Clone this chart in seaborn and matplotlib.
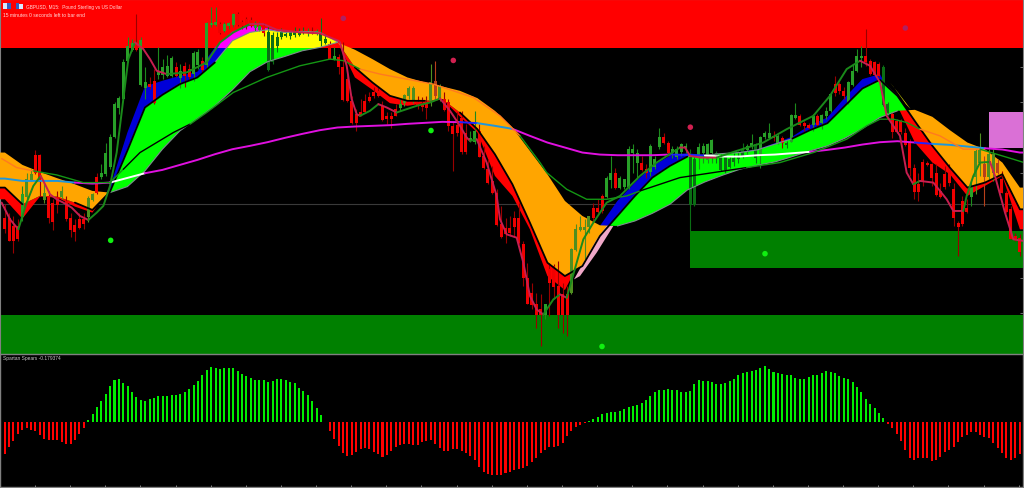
#GBPUSD M15 chart with Spartan Spears panel

import numpy as np
import pandas as pd
import seaborn as sns
import matplotlib.pyplot as plt
from matplotlib.patches import Rectangle

# candles, rows on the price pane (0 = top)
candle_open = [655,655,680,680,650,590,540,468,468,600, 590,612,592,592,606,656,676,660,660,650,
    600,532,532,522,500,410,325,297,185,150, 135,255,265,255,245,225,225,230,228,205,
    235,200,210,222,195,185,195,75,75,75, 95,80,75,45,68,60,62,85,90,80,
    100,108,140,100,105,110,100,105,97,100, 95,100,100,120,135,178,175,
    205,240,305,345,338,305,295,280,275,320, 350,350,330,325,310,288,305,310,315,310,
    305,245,300,300,310,380,378,355,400,420, 425,395,470,510,545,580,675,685,685,655,
    655,735,835,880,915,930,945,810,800,860, 885,885,880,750,690,690,680,625,625,590,
    590,540,520,565,560,560,460,490,490,510, 515,500,440,412,430,460,470,
    455,445,470,480,470,460,480,460,460,475, 470,480,475,470,470,450,440,435,465,410,
    415,410,430,415,430,425,355,352,370,378, 375,352,370,350,335,255,255,275,310,255,
    215,175,170,185,190,195,205,315,345,365, 365,400,430,505,555,488,490,495,520,575,
    525,505,570,670,605,625,590,530,490,495, 530,520,490,540,580,630,710,715]
candle_high = [615,640,650,660,560,520,510,452,465,550, 575,600,575,560,590,640,660,640,640,590,
    580,520,495,430,405,310,290,180,115,120, 45,115,205,235,210,145,180,168,172,190,
    195,190,195,155,150,175,70,25,25,70, 70,68,42,38,62,55,55,65,70,72,
    80,98,100,88,92,95,85,88,85,88, 85,90,58,105,125,145,165,
    130,225,290,330,300,285,280,265,260,305, 340,340,315,300,285,262,262,290,295,290,
    195,185,255,280,300,365,340,335,375,395, 335,375,440,480,500,570,620,655,650,635,
    610,725,790,850,880,885,915,790,795,785, 850,860,745,675,650,660,650,610,600,585,
    530,470,505,530,540,440,435,450,470,495, 435,470,385,400,425,440,440,
    430,430,450,465,430,430,430,420,455,465, 470,470,460,455,430,435,405,430,410,395,
    372,395,405,410,425,345,312,345,365,370, 345,345,345,325,280,230,248,265,245,195,
    150,140,90,180,185,190,198,310,340,360, 360,385,420,495,520,480,485,490,495,550,
    500,495,550,665,590,600,545,450,400,470, 450,450,480,515,575,620,700,705]
candle_low = [700,725,762,725,665,600,545,525,590,610, 672,692,640,600,665,712,725,690,690,668,
    605,585,540,530,510,415,345,300,190,155, 155,262,300,270,315,240,240,235,235,235,
    268,265,240,245,210,220,210,85,80,105, 100,90,85,80,90,90,85,95,95,110,
    215,195,160,120,115,120,115,110,105,110, 105,108,140,135,180,182,225,
    305,310,375,395,350,340,310,298,295,365, 375,385,352,335,320,300,312,330,335,360,
    320,300,305,335,395,515,410,465,465,428, 435,472,510,555,585,680,715,730,710,710,
    735,860,915,930,985,1040,960,950,900,985, 1000,1010,885,755,695,780,700,665,640,640,
    595,565,570,570,570,570,520,540,515,535, 530,510,450,435,470,475,480,
    470,460,695,620,510,490,490,490,490,515, 520,505,500,490,475,465,450,490,505,420,
    420,425,435,445,445,428,360,380,395,390, 395,380,390,360,340,290,285,300,315,260,
    220,205,200,228,230,235,320,350,415,400, 405,440,530,600,605,560,500,560,590,595,
    570,560,680,770,680,640,620,585,530,620, 540,545,525,580,640,720,725,770]
candle_close = [688,722,722,718,585,540,525,520,545,580, 655,665,615,575,658,690,695,685,672,597,
    585,578,522,462,412,315,297,190,142,132, 150,122,250,262,310,215,205,200,178,228,
    215,228,232,162,160,210,72,72,70,100, 75,72,45,75,80,78,80,75,80,100,
    210,188,115,112,110,100,105,98,100,95, 100,95,125,130,178,170,203,
    300,305,370,370,345,338,305,290,290,360, 358,358,350,316,288,268,268,320,322,325,
    250,290,262,330,378,402,400,455,455,415, 395,470,503,550,580,675,712,702,700,682,
    730,835,912,915,945,945,915,850,860,945, 945,945,750,690,683,682,650,655,635,632,
    535,520,565,537,540,450,450,460,510,520, 440,480,412,430,460,450,450,
    435,440,615,615,442,440,435,422,475,510, 510,500,485,478,450,440,432,475,412,402,
    400,415,410,430,435,348,348,375,378,385, 352,375,348,335,285,280,275,290,250,215,
    172,170,188,222,225,230,315,340,395,395, 395,435,505,575,575,545,495,535,585,590,
    560,550,655,680,672,635,560,455,452,530, 465,465,520,578,635,718,720,755]

# Spartan Spears histogram
spears = [-97,-77,-57,-37,-25,-18,-24,-27,-40,-52,-56,-56,-56,-62,-67,-66,-55,-37,-18,
    4,23,44,64,84,107,125,130,117,107, 91,74,65,62,70,73,79,77,79,80, 80,83,90,100,111,123,140,156,166,163,
    158,161,162,161,152,143,137,131,127,126, 125,121,124,128,128,126,119,116,102,93, 80,63,41,20,
    -2,-27,-52,-73,
    -94,-102,-100,-90,-82,-80,-82,-91,-98,-106, -99,-88,-77,-70,-67,-68,-69,-69,-62,-57,
    -55,-67,-79,-87,-87,-82,-81,-88,-95,-103, -116,-136,-153,-157,-160,-160,-160,-156,-152,-147,
    -142,-139,-134,-123,-109,-93,-84,-77,-75,-73, -63,-44,-27,-17,-10,-3,
    1,9,15,22,27,30,29,33,38,43, 47,51,57,66,78,89,96,96,98,96, 95,
    90,90,94,113,125,124,124,120,115,115, 118,124,130,140,147,151,154,155,162,168,
    158,151,146,143,142,140,133,128,128,135, 140,142,148,153,150,147,138,133,130,120,
    106,89,70,54,40,26,10,
    -6,-19,-37,-57,-84,-109,-117,-110,-108,-109, -120,-115,-105,-91,-85,-75,-62,-45,-39,-32,
    -32,-39,-45,-50,-63,-79,-93,-108,-115,-108, -98]

# moving averages read every fourth bar
slow_band = [460,497,518,537,555,575,580,562,515,450,395,358,320,272,218,188,172,155,145,130,
    152,180,210,235,250,262,275,297,335,385,455,525,605,650,678,680,665,642,615,
    572,548,528,510,498,488,472,455,440,417,388,355,335,332,353,393,430,450,490,565]
mid_band = [565,615,590,592,610,632,578,454,325,287,255,235,190,125,100,92,100,97,100,128,
    205,250,290,305,305,300,340,390,465,555,670,790,830,800,710,650,590,535,500,
    472,468,463,460,452,435,418,393,372,320,268,242,290,366,440,505,565,550,525,630]
fast_band = [600,658,592,595,622,640,565,400,262,245,230,218,145,98,80,88,102,97,100,128,
    235,272,312,320,312,300,352,400,530,590,690,830,872,770,680,605,550,500,470,
    462,468,463,458,450,432,412,378,355,295,240,225,320,430,490,525,590,560,530,690]
long_ma = [538,545,545,545,550,553,550,536,522,512,497,482,465,450,440,429,416,404,393,385,
    382,380,378,374,371,368,369,372,380,389,410,430,445,460,466,468,468,468,466,
    467,469,472,472,468,466,462,458,452,445,436,429,426,430,434,437,442,447,451,460]

fast_line_x = [5,30,55,80,100,122,130,150,170,190,215,240,265,290,310,330,350,370,385,405,430,450,470,500,
    560,620,660,700,750,790,830,900,960,1015,
    1020,1040,1055,1070,1080,1110,1135,1160,1190,1250,1290,1320,1350,1380,1400,1410,1430,1460,1490,1500,
    1520,1550,1570,1590,1610,1630,1660,1680,1700,1730,1750,1780,1820,1860,1920,1970,2040,
    2055,2070,2100,2150,2210,2290,2360,2440,2490,2540,2580,2610,2640,2660,2700,2720,2740,2760,2800,2840,
    2860,2890,2900,2920,2940,2970,2985,3015,3040,3072]
fast_line_y = [610,660,690,610,560,530,545,585,600,610,625,650,662,640,620,560,460,300,180,130,150,180,215,225,
    220,190,130,100,75,75,92,100,103,125,
    130,200,300,345,350,335,315,325,340,320,310,298,335,380,415,425,420,490,590,660,
    705,715,790,890,930,945,900,885,895,790,720,670,610,590,530,490,445,
    445,470,475,475,455,430,390,350,290,210,185,200,250,350,410,520,555,545,550,600,635,
    635,590,530,490,488,530,640,720,725,730]

slow_line_x = [5,50,100,170,250,330,370,420,470,520,570,620,700,800,900,990,1032,1080,1140,1220,1300,1420,1500,
    1560,1620,1640,1670,1700,1760,1820,1880,1920,1980,2040,2140,2240,2340,2440,2540,2600,2640,2680,2720,2760,
    2820,2890,2940,2990,3040,3072]
slow_line_y = [478,505,515,527,550,550,510,460,430,400,375,340,280,235,200,180,185,210,225,240,255,295,350,
    410,490,520,545,570,600,600,590,575,555,535,520,505,490,460,420,380,360,360,370,390,
    410,450,450,465,480,490]

pink_x = [1722,1790,1820,1840,1790,1740]
pink_y = [840,720,680,680,760,830]
wedge_x = [2670,2690,2732,2718,2680]
wedge_y = [250,275,330,315,262]

signal_x = [332,1293,1806,2295,1360,2071,1030,2716]
signal_y = [723,394,1041,763,184,384,58,87]
signal_kind = ["buy","buy","buy","buy","sell","sell","faded","faded"]

title_line = "GBPUSD, M15:  Pound Sterling vs US Dollar"
timer_line = "15 minutes 0 seconds left to bar end"
panel_line = "Spartan Spears -0.179374"

W = 3069
bar_x = 14 + 13.18 * np.arange(len(candle_open))
grid_x = np.r_[0, 14.7 + 52.5 * np.arange(len(slow_band)), W]

def pad(v):
    return np.r_[v[0], v, v[-1]]

s1 = pad(slow_band)
s2 = pad(mid_band)
s3 = pad(fast_band)
ma = pad(long_ma)

sns.set_style("dark")
plt.rcParams['font.family'] = ['Liberation Sans', 'DejaVu Sans']

fig = plt.figure(figsize=(10.24, 4.89), dpi=100, facecolor="black")
ax = fig.add_axes([0, 134.5 / 489, 1023 / 1024, 354.5 / 489])
ax2 = fig.add_axes([0, 1 / 489, 1023 / 1024, 133.5 / 489])

# rows of the price pane: 3 per pixel
ax.set_facecolor("black")
ax.set_xlim(0, W)
ax.set_ylim(1062, 0)

# zones
ax.add_patch(Rectangle((0, 3), W, 144, color="#ff0000", lw=0, zorder=1))
ax.add_patch(Rectangle((0, 948), W, 114, color="#008000", lw=0, zorder=1))
ax.add_patch(Rectangle((2070, 696), W - 2070, 110, color="#008000", lw=0, zorder=1))
ax.add_patch(Rectangle((2967, 340), W - 2967, 107, color="#da70d6", lw=0, zorder=1))
ax.axhline(614, color="#3a3a3a", lw=0.8, zorder=1.5)

# bands
ax.fill_between(grid_x, s3, s2, where=s3 > s2, interpolate=True, color="#ff0000", lw=0, zorder=3)
ax.fill_between(grid_x, s3, s2, where=s3 < s2, interpolate=True, color="#0000d8", lw=0, zorder=3)
ax.fill_between(grid_x, s1, s2, where=s1 < s2, interpolate=True, color="#ffa500", lw=0, zorder=3)
ax.fill_between(grid_x, s1, s2, where=s1 > s2, interpolate=True, color="#00ff00", lw=0, zorder=3)

# colours flip inside the red zone
zone = Rectangle((0, 0), W, 147, transform=ax.transData)
top_lime = ax.fill_between(grid_x, s1, s2, where=s1 > s2, interpolate=True, color="#ffff00", lw=0, zorder=3.1)
top_lime.set_clip_path(zone)
top_blue = ax.fill_between(grid_x, s3, s2, where=s3 < s2, interpolate=True, color="#ff00ff", lw=0, zorder=3.1)
top_blue.set_clip_path(zone)

ax.fill(pink_x, pink_y, color="#f0a8c8", lw=0, zorder=3.2)
ax.fill(wedge_x, wedge_y, color="#ffff00", lw=0, zorder=3.2)


def where_at(x, y):
    a = np.interp(x, grid_x, s1)
    b = np.interp(x, grid_x, s2)
    c = np.interp(x, grid_x, s3)
    if b < y < a:
        return "lime"
    if a < y < b:
        return "orange"
    if min(b, c) < y < max(b, c):
        return "blue" if c < b else "red"
    return "none"


def draw_runs(ax, x, y, colors, lw, zorder):
    start = 0
    for i in range(1, len(colors) + 1):
        if i == len(colors) or colors[i] != colors[start]:
            sns.lineplot(x=x[start:i + 1], y=y[start:i + 1], color=colors[start], lw=lw,
                         estimator=None, sort=False, legend=False, ax=ax, zorder=zorder)
            start = i


def draw_where(ax, x, y, keep, color, lw, zorder):
    # seaborn joins across gaps, so every kept stretch gets its own line
    start = None
    for i in range(len(x) + 1):
        if i < len(x) and keep[i]:
            if start is None:
                start = i
        elif start is not None:
            if i - start > 1:
                sns.lineplot(x=x[start:i], y=y[start:i], color=color, lw=lw, estimator=None,
                             sort=False, legend=False, ax=ax, zorder=zorder)
            start = None


# candles
co = np.array(candle_open)
cc = np.array(candle_close)
body_col = []
wick_col = []
for x, o, c in zip(bar_x, co, cc):
    spot = where_at(x, (o + c) / 2)
    if spot == "lime":
        body_col.append("#0a6e14")
        wick_col.append("#0a6e14")
    elif spot == "orange":
        body_col.append("#4f8f20" if c < o else "#b8401a")
        wick_col.append("#4f8f20" if c < o else "#b8401a")
    elif c < o:
        body_col.append("#28a028")
        wick_col.append("#1c8a1c")
    else:
        body_col.append("#f00000")
        wick_col.append("#9a0000")
ax.vlines(bar_x, candle_high, candle_low, colors=wick_col, lw=0.8, zorder=4)
ax.bar(bar_x, np.abs(co - cc) + 2, bottom=np.minimum(co, cc), width=9, color=body_col, lw=0, zorder=4.1)

# band outlines
draw_where(ax, grid_x, s1, s1 >= s2, "#7c8c8c", 0.8, 5)
draw_where(ax, grid_x, s2, s1 >= s2, "#7c8c8c", 0.8, 5)
draw_where(ax, grid_x, s2, (s2 > 147) & (np.abs(s3 - s2) > 4), "black", 1.3, 5.05)

# long MA, colour follows what it crosses
ma_cols = []
for i in range(len(grid_x) - 1):
    spot = where_at((grid_x[i] + grid_x[i + 1]) / 2, (ma[i] + ma[i + 1]) / 2)
    ma_cols.append({"lime": "#ffffff", "orange": "#1e96dc", "blue": "#2020ff", "red": "#2020ff"}.get(spot, "#e010e0"))
draw_runs(ax, grid_x, ma, ma_cols, 1.4, 5.2)

# slow line
sx = np.array(slow_line_x, dtype=float)
sy = np.array(slow_line_y, dtype=float)
slow_cols = []
for i in range(len(sx) - 1):
    spot = where_at((sx[i] + sx[i + 1]) / 2, (sy[i] + sy[i + 1]) / 2)
    slow_cols.append({"lime": "#000000", "orange": "#ff7a20"}.get(spot, "#149614"))
draw_runs(ax, sx, sy, slow_cols, 1.0, 5.3)

# fast line, green going up and crimson going down
fx = np.array(fast_line_x, dtype=float)
fy = np.array(fast_line_y, dtype=float)
fast_cols = ["#1a8a1a" if fy[i + 1] < fy[i] else "#c81e50" for i in range(len(fx) - 1)]
draw_runs(ax, fx, fy, fast_cols, 1.4, 5.4)

# signal dots
dots = pd.DataFrame({"x": signal_x, "y": signal_y, "kind": signal_kind})
sns.scatterplot(data=dots, x="x", y="y", hue="kind", linewidth=0, s=16, legend=False, ax=ax, zorder=6,
                palette={"buy": "#10f010", "sell": "#d02050", "faded": "#b02060"})

# header
ax.add_patch(Rectangle((9, 11), 12, 18, color="#d8e8ff", lw=0, zorder=7))
ax.add_patch(Rectangle((21, 11), 12, 18, color="#3060c0", lw=0, zorder=7))
ax.add_patch(Rectangle((48, 11), 10, 18, color="#3060c0", lw=0, zorder=7))
ax.add_patch(Rectangle((58, 14), 12, 15, color="#d8e8ff", lw=0, zorder=7))
ax.text(78, 21, title_line, color="#ffd8d8", fontsize=3.45, va="center", ha="left", zorder=7)
ax.text(10, 45, timer_line, color="#ffd8d8", fontsize=3.6, va="center", ha="left", zorder=7)

ax.set_xlabel("")
ax.set_ylabel("")
ax.set_xticks([])
ax.yaxis.tick_right()
ax.set_yticks(100 + 105 * np.arange(9))
ax.set_yticklabels([])
ax.tick_params(axis="y", direction="in", length=2, width=0.6, color="#808080", right=True, left=False)
for name, sp in ax.spines.items():
    sp.set_visible(name != "bottom")
    sp.set_color("#808080")
    sp.set_linewidth(0.8)

# lower panel
ax2.set_facecolor("black")
hist = pd.DataFrame({"x": bar_x, "v": spears, "side": np.where(np.array(spears) > 0, "up", "down")})
sns.barplot(data=hist, x="x", y="v", hue="side", palette={"up": "#00ee00", "down": "#ff0000"},
            native_scale=True, dodge=False, width=0.46, saturation=1, linewidth=0, legend=False, ax=ax2, zorder=3)
ax2.set_xlim(0, W)
ax2.set_ylim(-197, 206)
ax2.text(8, 194, panel_line, color="#c8c8c8", fontsize=3.5, va="center", ha="left", zorder=7)
ax2.set_xlabel("")
ax2.set_ylabel("")
ax2.set_xticks(105 + 105.4 * np.arange(29))
ax2.set_xticklabels([])
ax2.set_yticks([])
ax2.tick_params(axis="x", direction="in", length=1.5, width=0.6, color="#a0a0a0", bottom=True)
for name, sp in ax2.spines.items():
    sp.set_color("#808080")
    sp.set_linewidth(1.0)

fig.savefig("out.png", dpi=100, facecolor="black")
